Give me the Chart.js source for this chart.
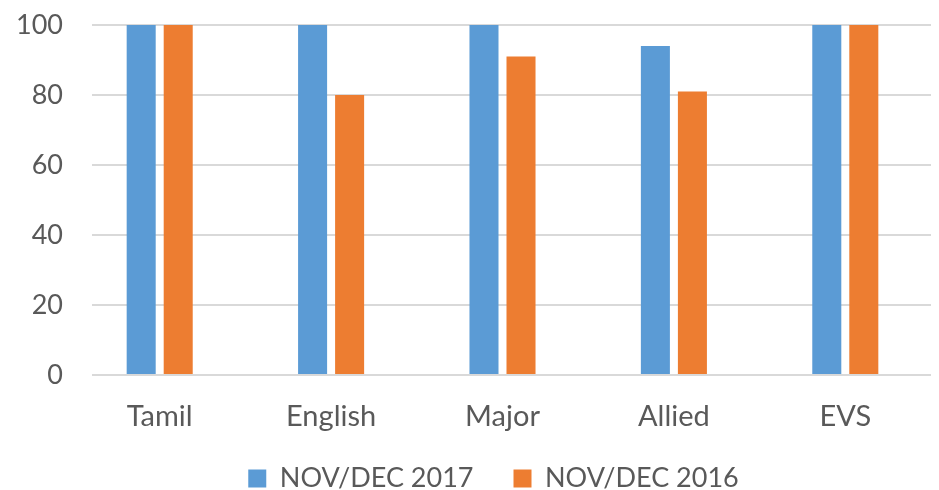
<!DOCTYPE html>
<html lang="en">
<head>
    <meta charset="UTF-8">
    <title>Pass percentage</title>
    <style>
        html, body { margin: 0; padding: 0; background: #fff; overflow: hidden; }
        #wrap { width: 939px; height: 490px; }
    </style>
</head>
<body>
    <div id="wrap"><canvas id="myChart" width="939" height="490"></canvas></div>
    <script src="https://cdn.jsdelivr.net/npm/chart.js"></script>
    <script>
        var subjects = ['Tamil', 'English', 'Major', 'Allied', 'EVS'];
        var seriesNames = ['NOV/DEC 2017', 'NOV/DEC 2016'];
        var result2017 = [100, 100, 100, 94, 100];
        var result2016 = [100, 80, 91, 81, 100];
        var yTicks = [0, 20, 40, 60, 80, 100];

        var textColor = '#595959';
        var fontName = 'Lato, "Open Sans", sans-serif';

        // grid lines in the original start a little right of the first category edge
        var gridStart = {
            id: 'gridStart',
            beforeDatasetsDraw: function(chart) {
                var a = chart.chartArea, ctx = chart.ctx;
                ctx.save();
                ctx.fillStyle = '#fff';
                ctx.fillRect(a.left - 1, a.top - 2, 19, a.bottom - a.top + 4);
                ctx.restore();
            }
        };

        // legend sits a bit right of centre and close to the bottom edge in the original
        var legendShift = {
            id: 'legendShift',
            afterLayout: function(chart) {
                chart.legend.left += 28;
                chart.legend.right += 28;
                chart.legend.top -= 14;
                chart.legend.bottom -= 14;
            }
        };

        var ctx = document.getElementById('myChart').getContext('2d');
        var myChart = new Chart(ctx, {
            type: 'bar',
            data: {
                labels: subjects,
                datasets: [
                    { label: seriesNames[0], data: result2017, backgroundColor: '#5B9BD5' },
                    { label: seriesNames[1], data: result2016, backgroundColor: '#ED7D31' }
                ]
            },
            options: {
                responsive: false,
                animation: false,
                layout: { padding: { top: 25, right: 8, left: 0, bottom: -26 } },
                datasets: { bar: { categoryPercentage: 0.432, barPercentage: 0.784 } },
                plugins: {
                    legend: {
                        position: 'bottom',
                        labels: {
                            boxWidth: 18, boxHeight: 18, padding: 40,
                            color: textColor,
                            font: { family: fontName, size: 27 }
                        }
                    },
                    tooltip: { enabled: false }
                },
                scales: {
                    x: {
                        grid: { display: false },
                        border: { display: false },
                        ticks: { color: textColor, padding: 16, font: { family: fontName, size: 29 } },
                        afterFit: function(s) { s.height = 64; }
                    },
                    y: {
                        min: 0, max: 100,
                        afterBuildTicks: function(s) { s.ticks = yTicks.map(function(v) { return { value: v }; }); },
                        grid: { color: '#D9D9D9', lineWidth: 2, drawTicks: false },
                        border: { display: false },
                        ticks: { color: textColor, padding: 11, font: { family: fontName, size: 27 } },
                        afterFit: function(s) {
                            s.width = 74;
                            s.paddingTop = 0;
                            s.paddingBottom = 0;
                        }
                    }
                }
            },
            plugins: [gridStart, legendShift]
        });
    </script>
</body>
</html>
